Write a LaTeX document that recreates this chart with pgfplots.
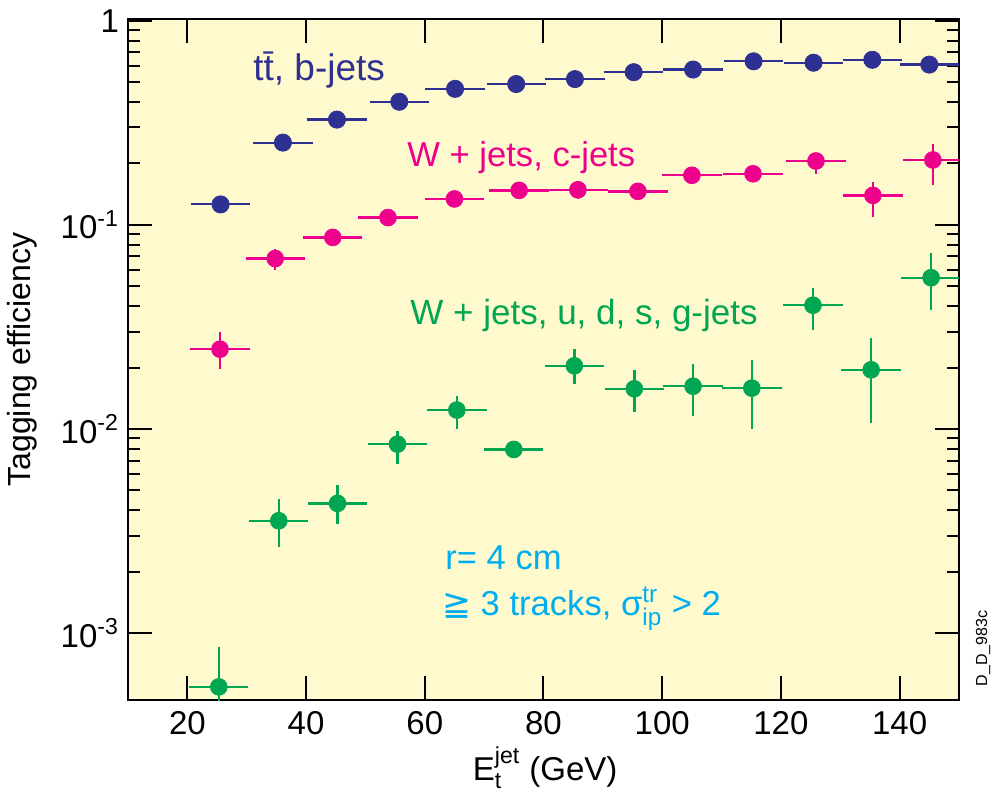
\documentclass[border=0pt]{standalone}
\usepackage{fontspec}
\setmainfont{Liberation Sans}
\newfontfamily\dejavu{DejaVu Sans}
\usepackage{amsmath}
\usepackage{pgfplots}
\usepackage{pgfplotstable}
\pgfplotsset{compat=1.18}

\definecolor{bgyellow}{RGB}{255,249,206}
\definecolor{bblue}{RGB}{46,49,146}
\definecolor{cpink}{RGB}{236,0,140}
\definecolor{lgreen}{RGB}{0,166,81}
\definecolor{tcyan}{RGB}{0,174,239}

\newcommand\supsub[2]{\ensuremath{^{\text{#1}}_{\text{#2}}}}

% x y ex ep em
\pgfplotstableread{
x y ex ep em
25.6 0.126 5 0.010 0.010
36.1 0.253 5 0.005 0.005
45.2 0.328 5 0.005 0.005
55.7 0.401 5 0.005 0.005
65.1 0.464 5 0.005 0.005
75.4 0.490 5 0.005 0.005
85.3 0.518 5 0.005 0.005
95.2 0.560 5 0.005 0.005
105.2 0.577 5 0.005 0.005
115.4 0.633 5 0.005 0.005
125.5 0.623 5 0.005 0.005
135.4 0.644 5 0.005 0.005
145.0 0.610 5 0.005 0.005
}\bjets

\pgfplotstableread{
x y ex ep em
25.5 0.0246 5 0.0051 0.0050
34.8 0.0684 5 0.0080 0.0082
44.5 0.0868 5 0.0030 0.0030
53.8 0.1086 5 0.0030 0.0030
65.0 0.134 5 0.004 0.004
75.9 0.1476 5 0.005 0.005
85.8 0.1486 5 0.014 0.014
95.9 0.146 5 0.012 0.012
105.0 0.175 5 0.015 0.013
115.3 0.178 5 0.018 0.014
125.9 0.2056 5 0.020 0.028
135.5 0.1395 5 0.023 0.030
145.6 0.208 5 0.042 0.051
}\cjets

\pgfplotstableread{
x y ex ep em
25.3 0.000545 5 0.000305 0.0002
35.4 0.00355 5 0.00097 0.00092
45.3 0.00432 5 0.00099 0.00090
55.4 0.00843 5 0.00137 0.00168
65.4 0.01238 5 0.00217 0.00241
75.0 0.00794 5 0.00083 0.00073
85.2 0.0204 5 0.0043 0.0038
95.3 0.01574 5 0.0038 0.0036
105.2 0.0162 5 0.0045 0.0046
115.1 0.01585 5 0.0060 0.0059
125.4 0.0404 5 0.0085 0.0099
135.2 0.0195 5 0.0084 0.0088
145.3 0.0551 5 0.0180 0.0169
}\lightjets

\begin{document}
\begin{tikzpicture}
\useasboundingbox (-64pt,-49.5pt) rectangle (432pt,350pt);
\begin{axis}[
  scale only axis,
  width=415.5pt, height=340.5pt,
  xmin=10, xmax=150,
  ymode=log, ymin=4.7e-4, ymax=1.02,
  axis background/.style={fill=bgyellow},
  axis line style={line width=1pt},
  every tick/.style={black, line width=1pt},
  major tick length=12pt,
  minor tick length=6pt,
  xtick={20,40,60,80,100,120,140},
  ytick={0.001,0.01,0.1,1},
  yticklabels={10\textsuperscript{-3},10\textsuperscript{-2},10\textsuperscript{-1},1},
  /pgf/number format/assume math mode=true,
  tick label style={font=\fontsize{16.5}{19}\selectfont},
  xticklabel style={yshift=-2pt},
  yticklabel style={xshift=-1pt},
  ylabel={Tagging efficiency},
  ylabel style={at={(axis description cs:-0.1276,0.5)}, anchor=center, font=\fontsize{16}{18}\selectfont},
  xlabel={E\supsub{jet}{t} (GeV)},
  xlabel style={at={(axis description cs:0.502,-0.1175)}, anchor=base, font=\fontsize{16.5}{19}\selectfont},
  clip mode=individual,
]
\addplot[color=bblue, only marks, mark=*, mark size=4.3pt, mark options={fill=bblue, draw=bblue},
  error bars/.cd, x dir=both, x explicit, y dir=both, y explicit, error mark=none,
  error bar style={line width=1.1pt, color=bblue}]
  table[x=x, y=y, x error=ex, y error plus=ep, y error minus=em] {\bjets};
\addplot[color=cpink, only marks, mark=*, mark size=4.2pt, mark options={fill=cpink, draw=cpink},
  error bars/.cd, x dir=both, x explicit, y dir=both, y explicit, error mark=none,
  error bar style={line width=1.2pt, color=cpink}]
  table[x=x, y=y, x error=ex, y error plus=ep, y error minus=em] {\cjets};
\addplot[color=lgreen, only marks, mark=*, mark size=4.2pt, mark options={fill=lgreen, draw=lgreen},
  error bars/.cd, x dir=both, x explicit, y dir=both, y explicit, error mark=none,
  error bar style={line width=1.2pt, color=lgreen}]
  table[x=x, y=y, x error=ex, y error plus=ep, y error minus=em] {\lightjets};

\node[anchor=base west, text=bblue, font=\fontsize{18.5}{22}\selectfont, inner sep=0pt]
  at (axis description cs:0.1504,0.909) {t\={t}, b-jets};
\node[anchor=base west, text=cpink, font=\fontsize{17.3}{20}\selectfont, inner sep=0pt]
  at (axis description cs:0.3357,0.784) {W + jets, c-jets};
\node[anchor=base west, text=lgreen, font=\fontsize{17.5}{20}\selectfont, inner sep=0pt]
  at (axis description cs:0.3394,0.552) {W + jets, u, d, s, g-jets};
\node[anchor=base west, text=tcyan, font=\fontsize{17.3}{20}\selectfont, inner sep=0pt]
  at (axis description cs:0.3815,0.191) {r= 4 cm};
\node[anchor=base west, text=tcyan, font=\fontsize{17.3}{20}\selectfont, inner sep=0pt]
  at (axis description cs:0.3775,0.1248) {{\dejavu ≧} 3 tracks, σ\supsub{tr}{ip} > 2};
\node[rotate=90, anchor=center, font=\fontsize{8}{10}\selectfont, inner sep=0pt]
  at (axis description cs:1.029,0.076) {D\_D\_983c};
\end{axis}
\end{tikzpicture}
\end{document}
